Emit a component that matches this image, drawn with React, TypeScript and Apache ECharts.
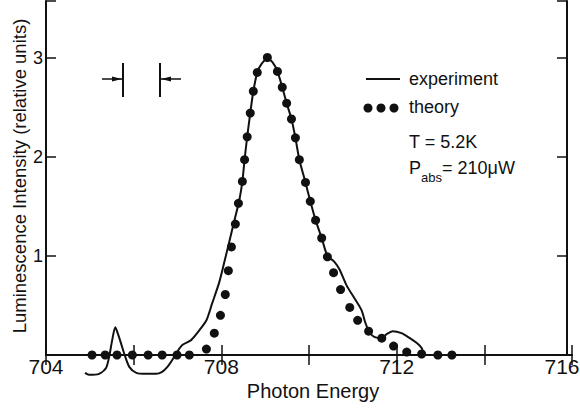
import React, { useEffect, useRef } from "react";
import * as echarts from "echarts";

// Measured luminescence spectrum (photon energy vs. intensity)
const expEnergy = [
  704.89, 704.98, 705.21, 705.37, 705.44, 705.51, 705.58, 705.62, 705.71, 705.78,
  705.9, 706.06, 706.29, 706.51, 706.65, 706.77, 706.88, 706.99, 707.11, 707.31,
  707.5, 707.66, 707.79, 707.95, 708.07, 708.18, 708.3, 708.41, 708.48, 708.53,
  708.59, 708.66, 708.73, 708.82, 708.91, 709.05, 709.17, 709.28, 709.39, 709.49,
  709.6, 709.69, 709.78, 709.92, 710.03, 710.15, 710.29, 710.42, 710.58, 710.7,
  710.86, 711.04, 711.2, 711.29, 711.38, 711.5, 711.66, 711.77, 711.91, 712.11,
  712.3, 712.46, 712.57, 712.62,
];
const expIntensity = [
  -0.18, -0.2, -0.19, -0.13, -0.02, 0.15, 0.28, 0.24, 0.12, 0.02,
  -0.12, -0.18, -0.19, -0.19, -0.17, -0.12, -0.05, 0.03, 0.1, 0.15,
  0.25, 0.35, 0.52, 0.73, 0.94, 1.14, 1.36, 1.56, 1.75, 1.97,
  2.2, 2.44, 2.66, 2.85, 2.93, 2.99, 2.95, 2.86, 2.7, 2.54,
  2.38, 2.19, 1.97, 1.74, 1.55, 1.36, 1.18, 1.0, 0.94, 0.86,
  0.7, 0.57, 0.45, 0.32, 0.23, 0.18, 0.17, 0.21, 0.24, 0.22,
  0.17, 0.12, 0.07, 0.0,
];

// Calculated line shape
const theoryEnergy = [
  705.05, 705.35, 705.62, 705.97, 706.33, 706.65, 706.99, 707.27, 707.66, 707.84,
  707.98, 708.09, 708.16, 708.23, 708.32, 708.39, 708.48, 708.53, 708.59, 708.66,
  708.73, 708.82, 709.05, 709.28, 709.39, 709.49, 709.6, 709.69, 709.78, 709.92,
  710.03, 710.15, 710.29, 710.42, 710.56, 710.72, 710.93, 711.11, 711.36, 711.66,
  711.93, 712.23, 712.57, 712.94, 713.26,
];
const theoryIntensity = [
  0, 0, 0, 0, 0, 0, 0, 0, 0.06, 0.22,
  0.4, 0.61, 0.85, 1.09, 1.32, 1.53, 1.75, 1.97, 2.2, 2.44,
  2.66, 2.85, 3.0, 2.86, 2.7, 2.54, 2.38, 2.19, 1.97, 1.74,
  1.55, 1.36, 1.18, 0.99, 0.83, 0.66, 0.48, 0.35, 0.24, 0.17,
  0.09, 0.03, 0.01, 0, 0,
];

const energyMin = 704;
const energyMax = 716;
const energyStep = 2;
const energyLabelStep = 4;
const intensityMax = 3.57;

const INK = "#111";
const FONT = '"Liberation Sans", Arial, sans-serif';

export default function App() {
  const ref = useRef<HTMLDivElement>(null);

  useEffect(() => {
    if (!ref.current) return;
    const chart = echarts.init(ref.current, null, { renderer: "svg" });

    const expData = expEnergy.map((e, i) => [e, expIntensity[i]]);
    const theoryData = theoryEnergy.map((e, i) => [e, theoryIntensity[i]]);

    const axisLine = { show: true, lineStyle: { color: INK, width: 2 } };
    const axisTick = { show: true, inside: true, length: 10, lineStyle: { color: INK, width: 1.5 } };

    const xCommon = {
      type: "value" as const,
      min: energyMin,
      max: energyMax,
      interval: energyStep,
      axisLine,
      axisTick,
      splitLine: { show: false },
    };
    const yCommon = {
      type: "value" as const,
      min: 0,
      max: intensityMax,
      interval: 1,
      axisLine,
      axisTick,
      splitLine: { show: false },
    };

    const txt = (text: string, x: number, y: number, size: number, extra: any = {}) => ({
      type: "text",
      x,
      y,
      style: {
        text,
        font: `${size}px ${FONT}`,
        fill: INK,
        align: "left",
        verticalAlign: "middle",
        ...extra,
      },
    });

    chart.setOption({
      animation: false,
      backgroundColor: "#fff",
      grid: {
        left: 46,
        right: 8,
        top: 1,
        bottom: 55,
        containLabel: false,
        outerBoundsMode: "none",
      },
      xAxis: [
        {
          ...xCommon,
          position: "bottom",
          axisLabel: {
            color: INK,
            fontFamily: FONT,
            fontSize: 21,
            margin: 1,
            formatter: (v: number) => {
              if ((v - energyMin) % energyLabelStep !== 0) return "";
              // the last label is nudged left so it stays on the canvas
              return v === energyMax ? `{edge|${v}}` : String(v);
            },
            rich: {
              edge: { fontFamily: FONT, fontSize: 21, color: INK, padding: [0, 20, 0, 0] },
            },
          },
        },
        { ...xCommon, position: "top", axisLabel: { show: false } },
      ],
      yAxis: [
        {
          ...yCommon,
          position: "left",
          axisLabel: {
            color: INK,
            fontFamily: FONT,
            fontSize: 18,
            margin: 3,
            formatter: (v: number) => (v > 0 && Number.isInteger(v) ? String(v) : ""),
          },
        },
        { ...yCommon, position: "right", offset: -5, axisLabel: { show: false } },
      ],
      series: [
        {
          name: "experiment",
          type: "line",
          data: expData,
          xAxisIndex: 0,
          yAxisIndex: 0,
          symbol: "none",
          smooth: 0.25,
          clip: false,
          lineStyle: { color: INK, width: 2 },
          z: 2,
        },
        {
          name: "theory",
          type: "scatter",
          data: theoryData,
          xAxisIndex: 0,
          yAxisIndex: 0,
          symbol: "circle",
          symbolSize: 9,
          itemStyle: { color: INK, opacity: 1 },
          z: 3,
        },
      ],
      graphic: [
        // axis titles
        txt("Photon Energy", 313, 391, 20, { align: "center" }),
        {
          type: "text",
          x: 19,
          y: 176,
          rotation: Math.PI / 2,
          style: {
            text: "Luminescence Intensity (relative units)",
            font: `18.5px ${FONT}`,
            fill: INK,
            align: "center",
            verticalAlign: "middle",
          },
        },
        // spectral resolution marker
        { type: "line", shape: { x1: 123, y1: 63, x2: 123, y2: 97 }, style: { stroke: INK, lineWidth: 2 } },
        { type: "line", shape: { x1: 102, y1: 79, x2: 123, y2: 79 }, style: { stroke: INK, lineWidth: 1.5 } },
        { type: "polygon", shape: { points: [[122, 79], [112, 76.5], [112, 81.5]] }, style: { fill: INK } },
        { type: "line", shape: { x1: 160, y1: 63, x2: 160, y2: 97 }, style: { stroke: INK, lineWidth: 2 } },
        { type: "line", shape: { x1: 160, y1: 79, x2: 181, y2: 79 }, style: { stroke: INK, lineWidth: 1.5 } },
        { type: "polygon", shape: { points: [[161, 79], [171, 76.5], [171, 81.5]] }, style: { fill: INK } },
        // legend
        { type: "line", shape: { x1: 366, y1: 79, x2: 400, y2: 79 }, style: { stroke: INK, lineWidth: 2 } },
        txt("experiment", 409, 79, 18),
        { type: "circle", shape: { cx: 368, cy: 108, r: 4.5 }, style: { fill: INK } },
        { type: "circle", shape: { cx: 381, cy: 108, r: 4.5 }, style: { fill: INK } },
        { type: "circle", shape: { cx: 394, cy: 108, r: 4.5 }, style: { fill: INK } },
        txt("theory", 409, 107, 18),
        txt("T = 5.2K", 409, 142, 18),
        txt("P", 409, 168, 18),
        txt("abs", 421, 177, 13),
        txt("= 210μW", 442, 168, 18),
      ],
    });

    return () => chart.dispose();
  }, []);

  return (
    <div
      ref={ref}
      style={{ position: "fixed", left: 0, top: 0, width: 580, height: 410, background: "#fff" }}
    />
  );
}
